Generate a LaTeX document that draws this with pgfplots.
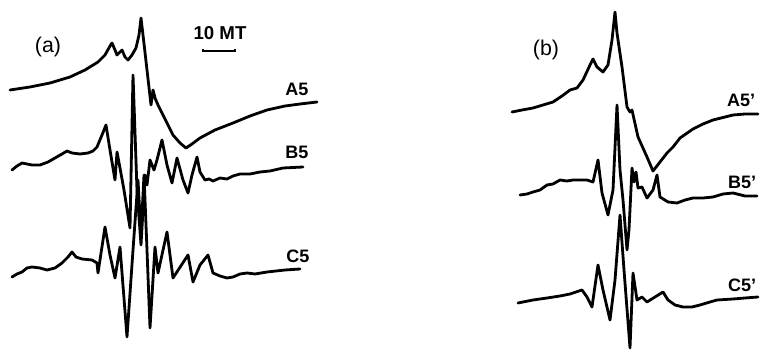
\documentclass[border=0pt]{standalone}
\usepackage{pgfplots}
\pgfplotsset{compat=1.18}
\usepackage{fontspec}
\setmainfont{Liberation Sans}
\begin{document}
\begin{tikzpicture}
\useasboundingbox (0,0) rectangle (570pt,264pt);
\begin{axis}[
  scale only axis, width=570pt, height=264pt,
  xmin=0, xmax=760, ymin=0, ymax=352, y dir=reverse,
  axis lines=none, clip=false,
  spec/.style={black, solid, line width=2.1pt, line join=round, line cap=round, mark=none},
]
% A5
\addplot[spec] coordinates {(10,90)(30,87)(50,83)(70,77)(85,70)(98,62)(105,55)(110,46)(112,43)(115,50)(117,55)(120,52)(122,50)(125,57)(128,60)(132,55)(136,48)(139,35)(141,18)(143,35)(147,70)(151,105)(153,90)(155,98)(158,105)(163,115)(168,125)(173,135)(180,143)(186,148)(192,144)(200,138)(215,130)(233,123)(250,116)(267,110)(285,106)(300,104)(317,102)};
% B5
\addplot[spec] coordinates {(12,170)(17,166)(22,163)(27,164)(32,165)(40,165)(48,162)(55,158)(62,154)(67,151)(72,153)(80,154)(88,153)(93,151)(97,147)(102,135)(106,125)(110,150)(115,180)(117,152)(120,168)(124,190)(130,228)(133,75)(137,190)(141,245)(145,175)(147,185)(150,160)(154,170)(157,160)(162,140)(167,165)(172,183)(177,158)(183,180)(188,193)(192,175)(197,157)(200,172)(205,180)(209,179)(213,181)(220,178)(227,179)(233,176)(240,174)(250,174)(260,172)(270,171)(283,168)(303,167)};
% C5
\addplot[spec] coordinates {(12,277)(17,274)(22,272)(27,268)(32,267)(40,268)(47,270)(55,268)(62,263)(68,257)(72,252)(76,257)(82,259)(92,260)(97,263)(98,273)(105,227)(110,255)(115,278)(120,247)(127,337)(133,250)(138,180)(141,235)(144,175)(147,250)(150,328)(155,247)(158,273)(167,232)(173,278)(188,255)(193,282)(200,265)(208,255)(213,273)(220,276)(227,278)(233,277)(240,274)(247,273)(255,274)(267,272)(285,270)(300,269)};
% A5'
\addplot[spec] coordinates {(512,112)(522,110)(533,108)(543,105)(553,102)(562,96)(570,90)(577,88)(583,80)(590,65)(593,59)(597,67)(603,72)(608,65)(612,40)(615,12)(617,33)(622,67)(627,107)(630,112)(632,110)(638,137)(647,157)(653,171)(660,162)(667,153)(673,147)(680,138)(693,129)(703,124)(713,120)(733,115)(745,114)(758,114)};
% B5'
\addplot[spec] coordinates {(520,195)(527,194)(533,192)(540,190)(547,185)(553,184)(560,180)(567,181)(573,180)(580,180)(587,180)(593,182)(598,160)(602,193)(608,215)(613,190)(617,105)(620,170)(623,200)(627,250)(629,230)(632,168)(634,182)(636,172)(638,188)(642,187)(647,198)(653,190)(657,175)(660,197)(668,202)(677,203)(685,200)(693,198)(703,198)(713,197)(723,194)(733,193)(745,196)(757,196)};
% C5'
\addplot[spec] coordinates {(518,303)(533,300)(547,298)(560,296)(570,294)(582,290)(587,297)(592,307)(598,265)(603,290)(610,320)(615,280)(620,215)(624,270)(630,348)(633,273)(637,300)(642,297)(647,302)(655,297)(663,292)(668,300)(675,305)(683,307)(692,307)(700,305)(710,302)(717,300)(733,299)(745,298)(758,297)};
% labels
\node[font=\fontsize{16pt}{18pt}\selectfont] at (axis cs:48,47) {(a)};
\node[font=\fontsize{16pt}{18pt}\selectfont] at (axis cs:546,50) {(b)};
\node[font=\fontsize{14pt}{16pt}\selectfont\bfseries] at (axis cs:220,33) {10 MT};
\draw[line width=2pt] (axis cs:203,49) -- (axis cs:203,51) -- (axis cs:235,51) -- (axis cs:235,49);
\node[font=\fontsize{13.5pt}{15pt}\selectfont\bfseries] at (axis cs:297,89) {A5};
\node[font=\fontsize{13.5pt}{15pt}\selectfont\bfseries] at (axis cs:297,152) {B5};
\node[font=\fontsize{13.5pt}{15pt}\selectfont\bfseries] at (axis cs:298,256) {C5};
\node[font=\fontsize{13.5pt}{15pt}\selectfont\bfseries] at (axis cs:741,100) {A5’};
\node[font=\fontsize{13.5pt}{15pt}\selectfont\bfseries] at (axis cs:742,182) {B5’};
\node[font=\fontsize{13.5pt}{15pt}\selectfont\bfseries] at (axis cs:742,285) {C5’};
\end{axis}
\end{tikzpicture}
\end{document}
